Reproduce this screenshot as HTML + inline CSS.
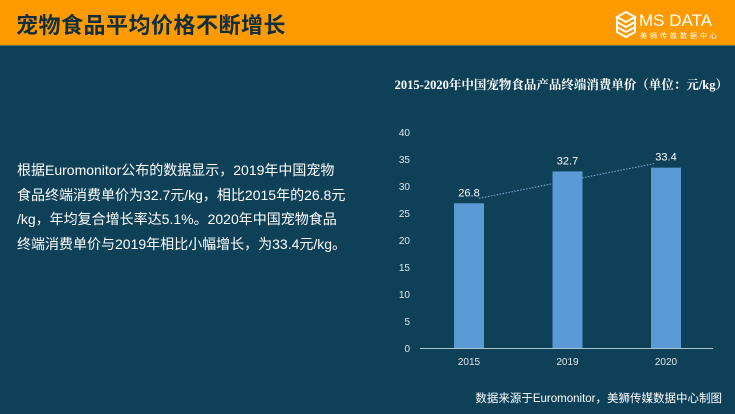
<!DOCTYPE html>
<html><head><meta charset="utf-8">
<style>
html,body{margin:0;padding:0;}
body{width:735px;height:414px;background:#0e4058;position:relative;overflow:hidden;font-family:"Liberation Sans","Noto Sans CJK SC",sans-serif;}
#header{position:absolute;left:0;top:0;width:735px;height:45px;background:#fd9a00;border-bottom:1px solid #6b6b5a;}
#title{position:absolute;left:16px;top:8px;font-size:22px;font-weight:bold;color:#102e3c;letter-spacing:0.5px;}
#logo{position:absolute;left:614px;top:7px;width:115px;height:34px;}
#desc{position:absolute;left:17px;top:158px;width:360px;font-size:14px;line-height:24.6px;color:#ffffff;white-space:nowrap;}
#chart{position:absolute;left:0;top:0;}
</style></head>
<body>
<div id="header">
  <div id="title">宠物食品平均价格不断增长</div>
  <svg id="logo" width="115" height="34" viewBox="0 0 115 34">
    <g fill="none" stroke="#fff" stroke-width="2">
      <path d="M3 10 L12 5 L21 10 L12 15 Z"/>
      <path d="M3 15 L12 20 L21 15"/>
      <path d="M3 20 L12 25 L21 20"/>
      <path d="M3 10 L3 25 L12 30 L21 25 L21 10"/>
    </g>
    <text x="25" y="19" font-size="17" fill="#fff" font-family="Liberation Sans, sans-serif">MS DATA</text>
    <text x="26" y="31" font-size="7" fill="#fff" letter-spacing="3" font-family="Liberation Sans, Noto Sans CJK SC, sans-serif">美狮传媒数据中心</text>
  </svg>
</div>
<div id="desc">根据Euromonitor公布的数据显示，2019年中国宠物<br>食品终端消费单价为32.7元/kg，相比2015年的26.8元<br>/kg，年均复合增长率达5.1%。2020年中国宠物食品<br>终端消费单价与2019年相比小幅增长，为33.4元/kg。</div>
<svg id="chart" width="735" height="414"></svg>
<script>
const categories = ['2015','2019','2020'];
const values = [26.8, 32.7, 33.4];
const valueLabels = ['26.8','32.7','33.4'];
const yTicks = [0,5,10,15,20,25,30,35,40];

const NS='http://www.w3.org/2000/svg';
const svg=document.getElementById('chart');
const y0=348, yTop=132, yMax=40;
const xLeft=420, xRight=713;
function yScale(v){return y0-(v/yMax)*(y0-yTop);}
function xScale(i){return 469+i*98.5;}
function mk(tag,attrs,text){const e=document.createElementNS(NS,tag);for(const k in attrs)e.setAttribute(k,attrs[k]);if(text!==undefined)e.textContent=text;svg.appendChild(e);return e;}

const t=mk('text',{x:728,y:89,'text-anchor':'end','font-size':'12.5','font-weight':'bold',fill:'#fff','font-family':'Liberation Serif, Noto Serif CJK SC, serif'},'2015-2020年中国宠物食品产品终端消费单价（单位：元/kg）');



yTicks.forEach(v=>{
  const e=mk('text',{x:410,y:yScale(v)+4,'text-anchor':'end','font-size':'10',fill:'#dfe6ea'},String(v));
  
  
});

// trend line (drawn behind bars)
const last=values.length-1;
const tl=mk('line',{x1:xScale(0)+10,y1:yScale(values[0])-5,x2:xScale(last)-12,y2:yScale(values[last])-4,stroke:'#7fb0d8','stroke-width':'1','stroke-dasharray':'1.5 1.5'});



values.forEach((v,i)=>{
  const b=mk('rect',{x:xScale(i)-15,y:yScale(v),width:30,height:y0-yScale(v),fill:'#5b9bd5'});
  
  
  const l=mk('text',{x:xScale(i),y:yScale(v)-7,'text-anchor':'middle','font-size':'11',fill:'#fff'},valueLabels[i]);
  
  
  const c=mk('text',{x:xScale(i),y:365,'text-anchor':'middle','font-size':'10',fill:'#dfe6ea'},categories[i]);
  
  
});

const ax=mk('line',{x1:xLeft,y1:y0+0.5,x2:xRight,y2:y0+0.5,stroke:'#a7c3d2','stroke-width':'1'});



const s=mk('text',{x:722,y:402,'text-anchor':'end','font-size':'11.5',fill:'#fff','font-family':'Liberation Sans, Noto Sans CJK SC, sans-serif'},'数据来源于Euromonitor，美狮传媒数据中心制图');


</script>
</body></html>
